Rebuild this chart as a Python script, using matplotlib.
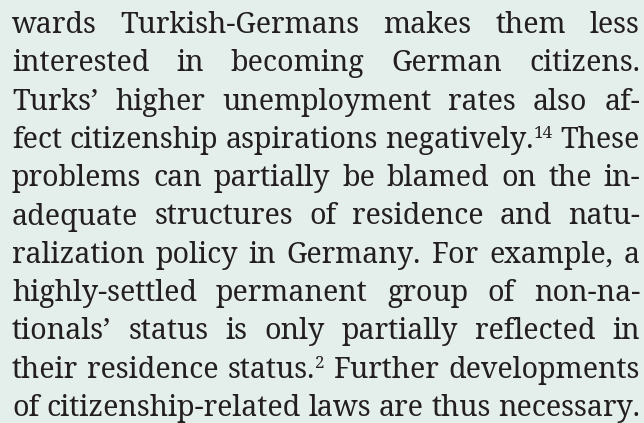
import matplotlib
matplotlib.use("Agg")
import matplotlib.pyplot as plt

# text lines, ^ marks a superscript note number
lines = [
    "wards Turkish-Germans makes them less",
    "interested in becoming German citizens.",
    "Turks\u2019 higher unemployment rates also af-",
    "fect citizenship aspirations negatively.^14 These",
    "problems can partially be blamed on the in-",
    "adequate structures of residence and natu-",
    "ralization policy in Germany. For example, a",
    "highly-settled permanent group of non-na-",
    "tionals\u2019 status is only partially reflected in",
    "their residence status.^2 Further developments",
    "of citizenship-related laws are thus necessary.",
]

W, H = 644, 423
left, right = 12, 640
first_base, line_gap = 33, 38.3
bg = "#e4eeea"
ink = "#231f20"
family = ["Noto Serif", "DejaVu Serif"]

fig = plt.figure(figsize=(W / 100, H / 100), dpi=100, facecolor=bg)
ax = fig.add_axes([0, 0, 1, 1])
ax.set_xlim(0, W)
ax.set_ylim(H, 0)
ax.axis("off")
renderer = fig.canvas.get_renderer()


def width(s, size):
    t = ax.text(0, 0, s, fontsize=size, family=family)
    w = t.get_window_extent(renderer).width
    t.remove()
    return w


def split_word(w):
    if "^" in w:
        a, b = w.split("^")
        return a, b
    return w, ""


def natural(line, size):
    tot = 0
    for w in line.split():
        a, b = split_word(w)
        tot += width(a, size)
        if b:
            tot += width(b, size * 0.6)
    n = len(line.split()) - 1
    return tot + n * (width("a a", size) - width("aa", size))


# target cap height ~20 px, but the tightest line must fit
size = 21.0
widest = max(natural(l, size) for l in lines)
if widest > right - left:
    size = size * (right - left) / widest

for i, line in enumerate(lines):
    y = first_base + i * line_gap
    words = [split_word(w) for w in line.split()]
    widths = []
    for a, b in words:
        wa = width(a, size)
        wb = width(b, size * 0.6) if b else 0
        widths.append((wa, wb))
    total = sum(wa + wb for wa, wb in widths)
    gap = (right - left - total) / max(len(words) - 1, 1)
    x = left
    for (a, b), (wa, wb) in zip(words, widths):
        ax.text(x, y, a, fontsize=size, family=family,
                color=ink, va="baseline", ha="left")
        if b:
            ax.text(x + wa, y - size * 0.48, b, fontsize=size * 0.6,
                    family=family, color=ink, va="baseline", ha="left")
        x += wa + wb + gap

fig.savefig("out.png", dpi=100, facecolor=bg)
